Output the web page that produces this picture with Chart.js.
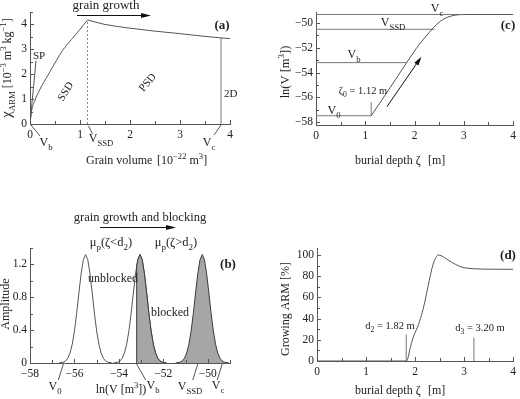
<!DOCTYPE html>
<html>
<head>
<meta charset="utf-8">
<script src="https://cdn.jsdelivr.net/npm/chart.js@4.4.1/dist/chart.umd.min.js"></script>
<style>
  html, body { margin: 0; padding: 0; background: #fff; }
  #wrap { position: relative; width: 520px; height: 399px; overflow: hidden; background: #fff; }
  #wrap canvas { position: absolute; }
</style>
</head>
<body>
<div id="wrap">
  <canvas id="chartA" width="260" height="200" style="left:0;top:0"></canvas>
  <canvas id="chartC" width="260" height="200" style="left:260px;top:0"></canvas>
  <canvas id="chartB" width="260" height="199" style="left:0;top:200px"></canvas>
  <canvas id="chartD" width="260" height="199" style="left:260px;top:200px"></canvas>
</div>
<script>
// (a) ARM susceptibility vs grain volume [10^-22 m^3]
const ssdVolume = [0, 0.03, 0.1, 0.2, 0.3, 0.4, 0.53, 0.65, 0.83, 1.0, 1.15];
const ssdChi = [0, 0.5, 0.96, 1.4, 1.76, 2.1, 2.56, 2.95, 3.4, 3.8, 4.18];
const psdVolume = [1.15, 1.3, 1.5, 2.0, 2.5, 3.0, 3.5, 3.82, 4.0];
const psdChi = [4.18, 4.1, 4.0, 3.85, 3.73, 3.63, 3.52, 3.46, 3.43];
const spVolume = [0, 0.12];
const spChi = [0, 2.55];
const vSSD = 1.15, chiAtSSD = 4.18;
const vCrit = 3.82, chiAtCrit = 3.46;

// (c) ln(V) vs burial depth
const depthC = [1.12, 1.5, 1.84, 2.1, 2.3, 2.45, 2.6, 2.75, 2.9, 3.1, 4.0];
const lnVolC = [-57.5, -55.25, -53.2, -51.7, -50.75, -50.1, -49.65, -49.42, -49.32, -49.3, -49.3];
const zeta0 = 1.12;
const lnV0 = -57.5, lnVb = -53.2, lnVssd = -50.5, lnVc = -49.3;
const depthAtVb = 1.84, depthAtVssd = 2.4, depthAtVc = 2.9;

// (b) grain size distributions, amplitude vs ln(V)
const peakAmp = [0, 0.01, 0.025, 0.058, 0.121, 0.228, 0.389, 0.604, 0.851, 1.086, 1.257, 1.32,
                 1.257, 1.086, 0.851, 0.604, 0.389, 0.228, 0.121, 0.058, 0.025, 0.01, 0];
const peak1LnV = [-56.7, -56.5, -56.4, -56.3, -56.2, -56.1, -56.0, -55.9, -55.8, -55.7, -55.6, -55.5,
                  -55.4, -55.3, -55.2, -55.1, -55.0, -54.9, -54.8, -54.7, -54.6, -54.5, -54.3];
const peak2LnV = [-54.25, -54.05, -53.95, -53.85, -53.75, -53.65, -53.55, -53.45, -53.35, -53.25, -53.15, -53.05,
                  -52.95, -52.85, -52.75, -52.65, -52.55, -52.45, -52.35, -52.25, -52.15, -52.05, -51.85];
const peak3LnV = [-51.45, -51.25, -51.15, -51.05, -50.95, -50.85, -50.75, -50.65, -50.55, -50.45, -50.35, -50.25,
                  -50.15, -50.05, -49.95, -49.85, -49.75, -49.65, -49.55, -49.45, -49.35, -49.25, -49.05];
const blockedLnV = [-53.2, -53.2, -53.15, -53.05, -52.95, -52.85, -52.75, -52.65, -52.55, -52.45,
                    -52.35, -52.25, -52.15, -52.05, -51.85];
const blockedAmp = [0, 1.18, 1.257, 1.32, 1.257, 1.086, 0.851, 0.604, 0.389, 0.228,
                    0.121, 0.058, 0.025, 0.01, 0];
const markV0 = -56.5, markVb = -53.2, markVssd = -50.45, markVc = -49.35;

// (d) growing ARM [%] vs burial depth
const depthD = [0, 1.82, 1.85, 1.9, 1.96, 2.05, 2.13, 2.2, 2.29, 2.36, 2.43, 2.47, 2.55, 2.65, 2.75, 2.9, 3.0, 3.2, 3.5, 4.0];
const growingArm = [0, 0, 2, 12, 22, 32, 43, 56, 76, 90, 98, 100, 99, 96, 93, 89.5, 88, 87, 86.6, 86.5];
const d2 = 1.82, d2Height = 25;
const d3 = 3.20, d3Height = 22;

const FONT = '"Liberation Serif", "DejaVu Serif", serif';
const ink = '#222';
const lineCol = '#555';
const shade = '#a6a6a6';

const pts = (xs, ys) => xs.map((x, i) => ({ x: x, y: ys[i] }));

function lineSet(xs, ys, extra) {
  return Object.assign({
    data: pts(xs, ys), borderColor: lineCol, borderWidth: 1,
    pointRadius: 0, fill: false, tension: 0
  }, extra || {});
}

function axis(min, max, step, fmt, fit, isX) {
  return {
    type: 'linear', min: min, max: max,
    grid: { drawOnChartArea: false, drawTicks: false },
    border: { display: true, color: lineCol, width: 1 },
    ticks: {
      stepSize: step, includeBounds: false, autoSkip: false, maxRotation: 0,
      padding: isX ? 4 : 3, color: ink, font: { family: FONT, size: 11.5 },
      callback: fmt
    },
    afterFit: s => { if (isX) s.height = fit; else s.width = fit; }
  };
}

const minus = v => (v < 0 ? '\u2212' + Math.abs(v) : String(v));
const intOnly = v => (Number.isInteger(v) ? String(v) : '');

// text with sub/superscripts: parts = [[text, kind, size]]
function rich(ctx, parts, x, y, align, size, weight) {
  const f = p => (weight || '') + ' ' + (p[2] || (p[1] ? size * 0.72 : size)) + 'px ' + FONT;
  let w = 0;
  parts.forEach(p => { ctx.font = f(p); w += ctx.measureText(p[0]).width; });
  let cx = align === 'center' ? x - w / 2 : (align === 'right' ? x - w : x);
  ctx.textAlign = 'left';
  ctx.textBaseline = 'alphabetic';
  parts.forEach(p => {
    ctx.font = f(p);
    const dy = p[1] === 'sub' ? size * 0.3 : (p[1] === 'sup' ? -size * 0.42 : 0);
    ctx.fillText(p[0], cx, y + dy);
    cx += ctx.measureText(p[0]).width;
  });
}

function rotated(ctx, x, y, deg, fn) {
  ctx.save();
  ctx.translate(x, y);
  ctx.rotate(deg * Math.PI / 180);
  fn();
  ctx.restore();
}

function seg(ctx, x1, y1, x2, y2) {
  ctx.beginPath(); ctx.moveTo(x1, y1); ctx.lineTo(x2, y2); ctx.stroke();
}

function arrow(ctx, x1, y1, x2, y2, head, half) {
  const a = Math.atan2(y2 - y1, x2 - x1);
  const bx = x2 - head * Math.cos(a), by = y2 - head * Math.sin(a);
  seg(ctx, x1, y1, bx, by);
  ctx.beginPath();
  ctx.moveTo(x2, y2);
  ctx.lineTo(bx + half * Math.sin(a), by - half * Math.cos(a));
  ctx.lineTo(bx - half * Math.sin(a), by + half * Math.cos(a));
  ctx.closePath();
  ctx.fill();
}

const drawers = {};

const extras = {
  id: 'extras',
  afterDraw(chart) {
    const ctx = chart.ctx;
    const sx = chart.scales.x, sy = chart.scales.y;
    const area = chart.chartArea;
    ctx.save();
    ctx.strokeStyle = lineCol;
    ctx.lineWidth = 1;
    // inward tick marks
    sx.ticks.forEach(t => {
      const p = Math.round(sx.getPixelForValue(t.value)) + 0.5;
      seg(ctx, p, area.bottom, p, area.bottom - (t.label !== '' ? 4 : 3));
    });
    sy.ticks.forEach(t => {
      const p = Math.round(sy.getPixelForValue(t.value)) + 0.5;
      seg(ctx, area.left, p, area.left + (t.label !== '' ? 4 : 3), p);
    });
    ctx.fillStyle = ink;
    const fn = drawers[chart.canvas.id];
    if (fn) fn(ctx, v => sx.getPixelForValue(v), v => sy.getPixelForValue(v));
    ctx.restore();
  }
};

function makeChart(id, datasets, xAxis, yAxis, pad) {
  return new Chart(document.getElementById(id).getContext('2d'), {
    type: 'line',
    data: { datasets: datasets },
    options: {
      responsive: false,
      animation: false,
      events: [],
      layout: { padding: pad },
      plugins: { legend: { display: false }, tooltip: { enabled: false } },
      scales: { x: xAxis, y: yAxis }
    },
    plugins: [extras]
  });
}

// ---------- panel (a)
drawers.chartA = (ctx, X, Y) => {
  rich(ctx, [['grain growth']], 106, 9, 'center', 13);
  ctx.fillStyle = '#111'; ctx.strokeStyle = '#111';
  arrow(ctx, 77, 15.5, 151, 15.5, 10, 2.6);
  ctx.fillStyle = ink; ctx.strokeStyle = lineCol;
  rich(ctx, [['(a)']], 222, 29, 'center', 13, 'bold');
  rich(ctx, [['SP']], 39, 59, 'center', 11);
  rotated(ctx, 65, 91, -58, () => rich(ctx, [['SSD']], 0, 4, 'center', 11));
  rotated(ctx, 147, 82, -50, () => rich(ctx, [['PSD']], 0, 4, 'center', 11));
  rich(ctx, [['2D']], 224, 97, 'left', 11);
  const y0 = Y(0);
  seg(ctx, X(0) + 1, y0 + 1, X(0) + 10, y0 + 12);
  rich(ctx, [['V'], ['b', 'sub']], 46, 146, 'center', 12);
  seg(ctx, X(vSSD) + 1, y0 + 2, X(vSSD) + 5, y0 + 10);
  rich(ctx, [['V'], ['SSD', 'sub']], 101, 142, 'center', 12);
  seg(ctx, X(vCrit), y0 + 1, X(vCrit) - 7, y0 + 11);
  rich(ctx, [['V'], ['c', 'sub']], 209, 146, 'center', 12);
  rich(ctx, [['Grain volume']], 86, 164, 'left', 12);
  rich(ctx, [['[10'], ['\u221222', 'sup'], [' m'], ['3', 'sup'], [']']], 157, 164, 'left', 12);
  rotated(ctx, 11, 68, -90, () => rich(ctx, [['\u03c7', '', 15], ['ARM', 'sub'], [' [10'], ['\u22123', 'sup'],
    [' m'], ['3', 'sup'], [' kg'], ['\u22121', 'sup'], [']']], 0, 0, 'center', 12));
};

makeChart('chartA', [
  lineSet(ssdVolume, ssdChi, { cubicInterpolationMode: 'monotone' }),
  lineSet(psdVolume, psdChi, { cubicInterpolationMode: 'monotone' }),
  lineSet(spVolume, spChi),
  lineSet([vSSD, vSSD], [0, chiAtSSD], { borderColor: '#8a8a8a', borderDash: [2, 2] }),
  lineSet([vCrit, vCrit], [0, chiAtCrit], { borderColor: '#777' })
],
  axis(0, 4, 0.5, intOnly, 76, true),
  axis(0, 4.5, 0.5, intOnly, 30, false),
  { left: 0, right: 30, top: 12, bottom: 0 });

// ---------- panel (c)
drawers.chartC = (ctx, X, Y) => {
  rich(ctx, [['(c)']], 248, 29, 'center', 13, 'bold');
  rich(ctx, [['V'], ['c', 'sub']], 177, 12, 'center', 12);
  rich(ctx, [['V'], ['SSD', 'sub']], 133, 26, 'center', 12);
  rich(ctx, [['V'], ['b', 'sub']], 94, 58, 'center', 12);
  rich(ctx, [['\u03b6'], ['0', 'sub'], [' = 1.12 m']], 103, 94, 'center', 10.5);
  rich(ctx, [['V'], ['0', 'sub']], 74, 114, 'center', 12);
  ctx.fillStyle = '#111'; ctx.strokeStyle = '#111';
  arrow(ctx, X(1.44), Y(-56.76), X(2.14), Y(-52.72), 9, 2.5);
  ctx.fillStyle = ink; ctx.strokeStyle = lineCol;
  rich(ctx, [['burial depth \u03b6']], 95, 164, 'left', 12);
  rich(ctx, [['[m]']], 168, 164, 'left', 12);
  rotated(ctx, 29, 72, -90, () => rich(ctx, [['ln(V [m'], ['3', 'sup'], ['])']], 0, 0, 'center', 12.5));
};

makeChart('chartC', [
  lineSet(depthC, lnVolC, { cubicInterpolationMode: 'monotone' }),
  lineSet([0, depthAtVc], [lnVc, lnVc], { borderColor: '#777' }),
  lineSet([0, depthAtVssd], [lnVssd, lnVssd], { borderColor: '#777' }),
  lineSet([0, depthAtVb], [lnVb, lnVb], { borderColor: '#777' }),
  lineSet([0, zeta0], [lnV0, lnV0], { borderColor: '#777' }),
  lineSet([zeta0, zeta0], [lnV0, -56.4], { borderColor: '#777' })
],
  axis(0, 4, 0.5, intOnly, 75, true),
  axis(-58.25, -49.1, 1, v => (v % 2 === 0 ? minus(v) : ''), 56, false),
  { left: 0, right: 3, top: 12, bottom: 0 });

// ---------- panel (b)
drawers.chartB = (ctx, X, Y) => {
  rich(ctx, [['grain growth and blocking']], 140, 21, 'center', 12.5);
  ctx.fillStyle = '#111'; ctx.strokeStyle = '#111';
  arrow(ctx, 100, 27.5, 176, 27.5, 10, 2.6);
  ctx.fillStyle = ink; ctx.strokeStyle = lineCol;
  rich(ctx, [['\u03bc'], ['p', 'sub'], ['(\u03b6<d'], ['2', 'sub'], [')']], 111, 46, 'center', 12.5);
  rich(ctx, [['\u03bc'], ['p', 'sub'], ['(\u03b6>d'], ['2', 'sub'], [')']], 176, 46, 'center', 12.5);
  rich(ctx, [['(b)']], 228, 68, 'center', 13, 'bold');
  rich(ctx, [['unblocked']], 113, 82, 'center', 12);
  rich(ctx, [['blocked']], 170, 116, 'center', 12);
  const y0 = Y(0);
  seg(ctx, X(markV0), y0 + 1, X(markV0) - 5, y0 + 17);
  rich(ctx, [['V'], ['0', 'sub']], 55, 190, 'center', 12);
  seg(ctx, X(markVb), y0 + 1, X(markVb) + 9, y0 + 17);
  rich(ctx, [['V'], ['b', 'sub']], 153, 189, 'center', 12);
  seg(ctx, X(markVssd), y0 + 1, X(markVssd) - 5, y0 + 17);
  rich(ctx, [['V'], ['SSD', 'sub']], 190, 190, 'center', 12);
  seg(ctx, X(markVc), y0 + 1, X(markVc) - 5, y0 + 17);
  rich(ctx, [['V'], ['c', 'sub']], 218, 189, 'center', 12);
  rich(ctx, [['ln(V [m'], ['3', 'sup'], ['])']], 121, 193, 'center', 12);
  rotated(ctx, 9, 104, -90, () => rich(ctx, [['Amplitude']], 0, 0, 'center', 12));
};

makeChart('chartB', [
  lineSet(blockedLnV, blockedAmp, { fill: 'origin', backgroundColor: shade, borderColor: '#3a3a3a' }),
  lineSet(peak3LnV, peakAmp, { fill: 'origin', backgroundColor: shade, borderColor: '#3a3a3a' }),
  lineSet(peak1LnV, peakAmp),
  lineSet(peak2LnV, peakAmp)
],
  axis(-58, -49, 1, v => (v % 2 === 0 && v <= -50 ? minus(v) : ''), 36, true),
  axis(0, 1.4, 0.2, v => (Math.round(v * 10) % 4 === 0 ? (v === 0 ? '0' : v.toFixed(1)) : ''), 30, false),
  { left: 0, right: 30, top: 48, bottom: 0 });

// ---------- panel (d)
drawers.chartD = (ctx, X, Y) => {
  rich(ctx, [['(d)']], 248, 59, 'center', 13, 'bold');
  rich(ctx, [['d'], ['2', 'sub'], [' = 1.82 m']], 130, 129, 'center', 10.5);
  rich(ctx, [['d'], ['3', 'sub'], [' = 3.20 m']], 220, 131, 'center', 10.5);
  rich(ctx, [['burial depth \u03b6']], 95, 194, 'left', 12);
  rich(ctx, [['[m]']], 168, 194, 'left', 12);
  rotated(ctx, 29, 109, -90, () => rich(ctx, [['Growing ARM [%]']], 0, 0, 'center', 12));
};

makeChart('chartD', [
  lineSet(depthD, growingArm, { cubicInterpolationMode: 'monotone' }),
  lineSet([d2, d2], [0, d2Height], { borderColor: '#777' }),
  lineSet([d3, d3], [0, d3Height], { borderColor: '#777' })
],
  axis(0, 4, 0.5, intOnly, 38, true),
  axis(0, 106.6, 10, v => (v % 20 === 0 ? String(v) : ''), 57, false),
  { left: 0, right: 3, top: 48, bottom: 0 });
</script>
</body>
</html>
